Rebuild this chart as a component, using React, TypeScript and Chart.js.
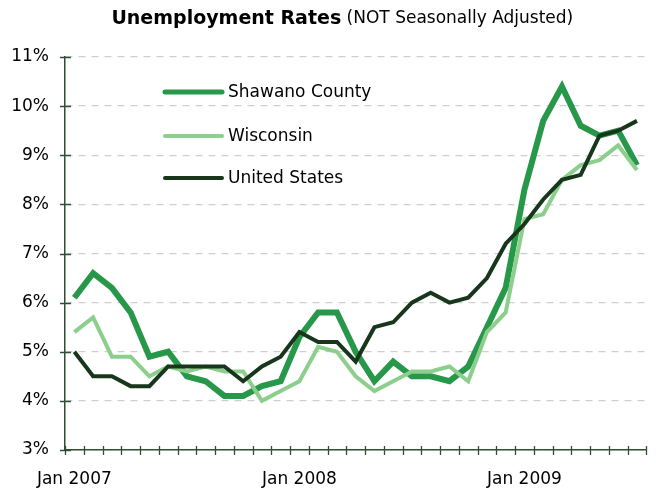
import React, { useEffect, useRef } from "react";
import { Chart, registerables } from "chart.js";

Chart.register(...registerables);

const months = [
  "Jan 2007", "Feb 2007", "Mar 2007", "Apr 2007", "May 2007", "Jun 2007",
  "Jul 2007", "Aug 2007", "Sep 2007", "Oct 2007", "Nov 2007", "Dec 2007",
  "Jan 2008", "Feb 2008", "Mar 2008", "Apr 2008", "May 2008", "Jun 2008",
  "Jul 2008", "Aug 2008", "Sep 2008", "Oct 2008", "Nov 2008", "Dec 2008",
  "Jan 2009", "Feb 2009", "Mar 2009", "Apr 2009", "May 2009", "Jun 2009",
  "Jul 2009",
];

const shawano = [
  6.1, 6.6, 6.3, 5.8, 4.9, 5.0, 4.5, 4.4, 4.1, 4.1, 4.3, 4.4,
  5.3, 5.8, 5.8, 5.0, 4.4, 4.8, 4.5, 4.5, 4.4, 4.7, 5.5, 6.3,
  8.3, 9.7, 10.4, 9.6, 9.4, 9.5, 8.8,
];

const wisconsin = [
  5.4, 5.7, 4.9, 4.9, 4.5, 4.7, 4.6, 4.7, 4.6, 4.6, 4.0, 4.2,
  4.4, 5.1, 5.0, 4.5, 4.2, 4.4, 4.6, 4.6, 4.7, 4.4, 5.4, 5.8,
  7.7, 7.8, 8.5, 8.8, 8.9, 9.2, 8.7,
];

const unitedStates = [
  5.0, 4.5, 4.5, 4.3, 4.3, 4.7, 4.7, 4.7, 4.7, 4.4, 4.7, 4.9,
  5.4, 5.2, 5.2, 4.8, 5.5, 5.6, 6.0, 6.2, 6.0, 6.1, 6.5, 7.2,
  7.6, 8.1, 8.5, 8.6, 9.4, 9.5, 9.7,
];

const seriesNames = ["Shawano County", "Wisconsin", "United States"];
const titleBold = "Unemployment Rates";
const titleNormal = " (NOT Seasonally Adjusted)";
const yMin = 3;
const yMax = 11;

const FONT = "'DejaVu Sans', 'Open Sans', sans-serif";
const AXIS_COLOR = "#2f4f35";
const COLORS = ["#27974a", "#8ccf8c", "#17361b"];
const WIDTHS = [6, 4, 4];

const titlePlugin = {
  id: "twoPartTitle",
  afterDraw(chart: any) {
    const ctx = chart.ctx;
    ctx.save();
    ctx.textBaseline = "middle";
    ctx.fillStyle = "#000";
    const boldFont = `bold 19px ${FONT}`;
    const normFont = `17px ${FONT}`;
    ctx.font = boldFont;
    const w1 = ctx.measureText(titleBold).width;
    ctx.font = normFont;
    const w2 = ctx.measureText(titleNormal).width;
    const center = chart.chartArea.left + chart.chartArea.width * 0.477;
    const x0 = center - (w1 + w2) / 2;
    ctx.textAlign = "left";
    ctx.font = boldFont;
    ctx.fillText(titleBold, x0, 19);
    ctx.font = normFont;
    ctx.fillText(titleNormal, x0 + w1, 19);
    ctx.restore();
  },
};

const ticksPlugin = {
  id: "crossTicks",
  afterDraw(chart: any) {
    const ctx = chart.ctx;
    const xs = chart.scales.x;
    const ys = chart.scales.y;
    const area = chart.chartArea;
    ctx.save();
    ctx.strokeStyle = AXIS_COLOR;
    ctx.lineWidth = 1.3;
    ctx.beginPath();
    ys.ticks.forEach((t: any) => {
      const py = Math.round(ys.getPixelForValue(t.value)) + 0.5;
      ctx.moveTo(area.left - 5, py);
      ctx.lineTo(area.left + 6, py);
    });
    const n = months.length;
    for (let i = 0; i <= n; i++) {
      const px = Math.round(xs.left + (i * xs.width) / n) + 0.5;
      ctx.moveTo(px, area.bottom - 4);
      ctx.lineTo(px, area.bottom + 5);
    }
    ctx.stroke();
    ctx.restore();
  },
};

const legendPlugin = {
  id: "innerLegend",
  afterDraw(chart: any) {
    const ctx = chart.ctx;
    const area = chart.chartArea;
    const x1 = area.left + 100;
    const x2 = area.left + 157;
    const tops = [35, 79, 121];
    ctx.save();
    ctx.font = `17px ${FONT}`;
    ctx.textBaseline = "middle";
    ctx.textAlign = "left";
    seriesNames.forEach((name, i) => {
      const y = area.top + tops[i];
      ctx.strokeStyle = COLORS[i];
      ctx.lineWidth = i === 0 ? 5 : 4;
      ctx.lineCap = "round";
      ctx.beginPath();
      ctx.moveTo(x1, y);
      ctx.lineTo(x2, y);
      ctx.stroke();
      ctx.fillStyle = "#000";
      ctx.fillText(name, x2 + 6, y + 1);
    });
    ctx.restore();
  },
};

export default function App() {
  const ref = useRef<HTMLCanvasElement | null>(null);

  useEffect(() => {
    document.body.style.margin = "0";
    const canvas = ref.current;
    if (!canvas) return;
    const data = [shawano, wisconsin, unitedStates];
    const chart = new Chart(canvas, {
      type: "line",
      data: {
        labels: months,
        datasets: data.map((vals, i) => ({
          label: seriesNames[i],
          data: vals,
          borderColor: COLORS[i],
          backgroundColor: COLORS[i],
          borderWidth: WIDTHS[i],
          pointRadius: 0,
          tension: 0,
          fill: false,
          order: 3 - i,
        })),
      },
      options: {
        responsive: false,
        animation: false,
        layout: { padding: { top: 57, right: 3, left: 0, bottom: 0 } },
        plugins: {
          legend: { display: false },
          title: { display: false },
          tooltip: { enabled: false },
        },
        scales: {
          x: {
            offset: true,
            grid: { display: false, drawTicks: false },
            border: { display: true, color: AXIS_COLOR, width: 1.5 },
            ticks: {
              autoSkip: false,
              maxRotation: 0,
              padding: 19,
              color: "#000",
              font: { family: FONT, size: 17 },
              callback: (_v: any, i: number) =>
                months[i].startsWith("Jan") ? months[i] : "",
            },
            afterFit: (s: any) => {
              s.height = 43;
            },
          },
          y: {
            min: yMin,
            max: yMax,
            grid: {
              color: "#cfcfcf",
              lineWidth: 1.3,
              drawTicks: false,
            },
            border: { display: true, color: AXIS_COLOR, width: 1.5, dash: [7, 6] },
            ticks: {
              stepSize: 1,
              padding: 16,
              color: "#000",
              font: { family: FONT, size: 17 },
              callback: (v: any) => `${v}%`,
            },
            afterFit: (s: any) => {
              s.width = 65;
            },
          },
        },
      },
      plugins: [titlePlugin, ticksPlugin, legendPlugin],
    });
    return () => chart.destroy();
  }, []);

  return (
    <div style={{ width: 656, height: 493, background: "#fff" }}>
      <canvas ref={ref} width={656} height={493} />
    </div>
  );
}
